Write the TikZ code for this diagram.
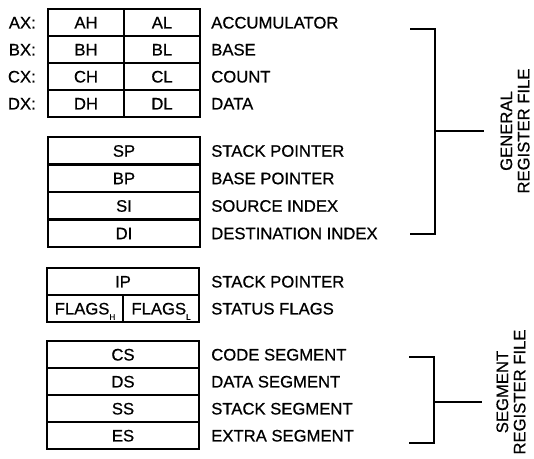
\documentclass[tikz,border=0pt]{standalone}
\usepackage{fontspec}
\setmainfont{Liberation Sans}
\newfontfamily\heavy{Liberation Sans}[FakeBold=0.6]
\begin{document}
\begin{tikzpicture}[x=0.75pt,y=-0.75pt,
  every node/.style={font=\heavy\fontsize{12.5pt}{13pt}\selectfont, text height=8.95pt, text depth=0pt, inner sep=0pt},
  fullcell/.style={draw, line width=1.6pt, minimum width=114pt, minimum height=20.25pt},
  halfcell/.style={draw, line width=1.6pt, minimum width=57pt, minimum height=20.25pt},
  tallcell/.style={fullcell, minimum height=20.625pt},
  desc/.style={anchor=west},
  xlabel/.style={anchor=east},
  bracket/.style={line width=1.6pt},
  vlabel/.style={rotate=90, align=center, text height=, text depth=}
]
\useasboundingbox[fill=white] (0,0) rectangle (534,458);
% general registers
\node[xlabel] (ax) at (36,22.5) {AX:};
\node[xlabel] (bx) at (36,49.5) {BX:};
\node[xlabel] (cx) at (36,76.5) {CX:};
\node[xlabel] (dx) at (36,103.5) {DX:};
\node[halfcell] (ah) at (86,22.5) {AH};
\node[halfcell] (al) at (162,22.5) {AL};
\node[halfcell] (bh) at (86,49.5) {BH};
\node[halfcell] (bl) at (162,49.5) {BL};
\node[halfcell] (ch) at (86,76.5) {CH};
\node[halfcell] (cl) at (162,76.5) {CL};
\node[halfcell] (dh) at (86,103.5) {DH};
\node[halfcell] (dl) at (162,103.5) {DL};
\node[desc] (d1) at (211,22.5) {ACCUMULATOR};
\node[desc] (d2) at (211,49.5) {BASE};
\node[desc] (d3) at (211,76.5) {COUNT};
\node[desc] (d4) at (211,103.5) {DATA};
% pointer and index
\node[tallcell] (sp) at (124,150.75) {SP};
\node[tallcell] (bp) at (124,178.25) {BP};
\node[tallcell] (si) at (124,205.75) {SI};
\node[tallcell] (di) at (124,233.25) {DI};
\node[desc] (d5) at (211,150.75) {STACK POINTER};
\node[desc] (d6) at (211,178.25) {BASE POINTER};
\node[desc] (d7) at (211,205.75) {SOURCE INDEX};
\node[desc] (d8) at (211,233.25) {DESTINATION INDEX};
% ip and flags
\node[fullcell] (ip) at (123,281.5) {IP};
\node[halfcell] (fh) at (85,308.5) {FLAGS\raisebox{-0.6ex}{\fontsize{6pt}{6pt}\selectfont H}};
\node[halfcell] (fl) at (161,308.5) {FLAGS\raisebox{-0.6ex}{\fontsize{6pt}{6pt}\selectfont L}};
\node[desc] (d9) at (211,281.5) {STACK POINTER};
\node[desc] (d10) at (211,308.5) {STATUS FLAGS};
% segment registers
\node[fullcell] (cs) at (123,354.5) {CS};
\node[fullcell] (ds) at (123,381.5) {DS};
\node[fullcell] (ss) at (123,408.5) {SS};
\node[fullcell] (es) at (123,435.5) {ES};
\node[desc] (d11) at (211,354.5) {CODE SEGMENT};
\node[desc] (d12) at (211,381.5) {DATA SEGMENT};
\node[desc] (d13) at (211,408.5) {STACK SEGMENT};
\node[desc] (d14) at (211,435.5) {EXTRA SEGMENT};
% brackets
\coordinate (gtop) at (410,29);
\coordinate (gbot) at (410,234);
\coordinate (gmid) at (435,131);
\coordinate (gend) at (484,131);
\draw[bracket] (gtop) -- (435,29) -- (435,234) -- (gbot);
\draw[bracket] (gmid) -- (gend);
\node[vlabel] (glab) at (515,131) {GENERAL\\REGISTER FILE};
\coordinate (stop) at (409,357);
\coordinate (sbot) at (409,443);
\coordinate (smid) at (434,402);
\coordinate (send) at (482,402);
\draw[bracket] (stop) -- (434,357) -- (434,443) -- (sbot);
\draw[bracket] (smid) -- (send);
\node[vlabel] (slab) at (511,392) {SEGMENT\\REGISTER FILE};
\end{tikzpicture}
\end{document}
